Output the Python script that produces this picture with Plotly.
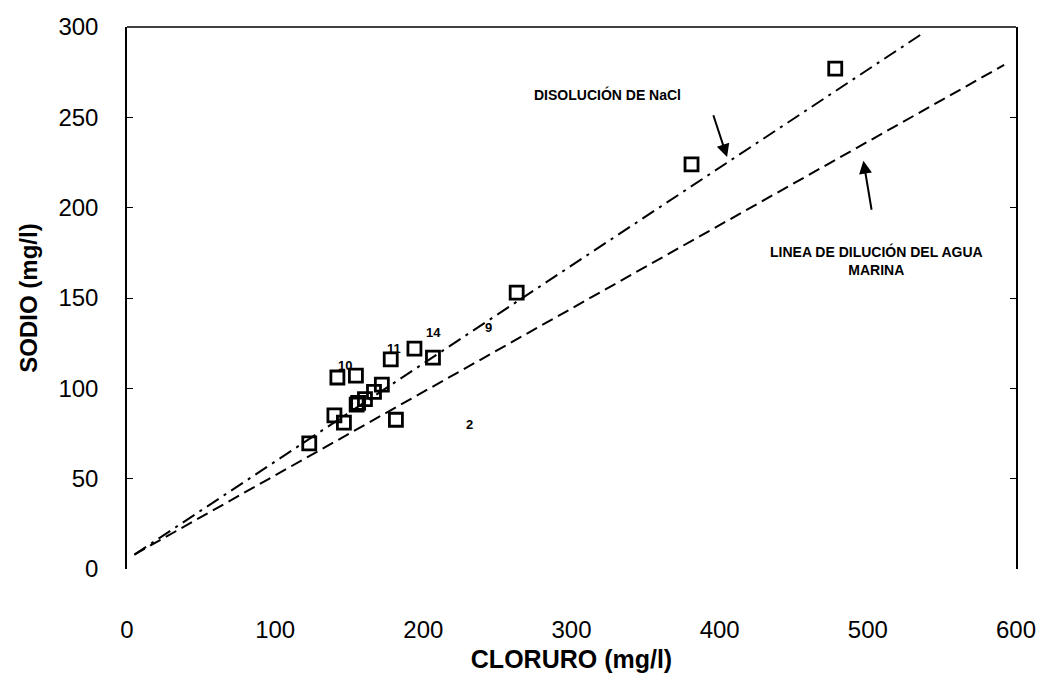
import plotly.graph_objects as go

# Data
cloruro = [123, 140, 146.4, 142, 154.5, 178, 194, 206.5, 172, 166.7, 160.6, 156, 155, 181.5, 263, 381, 478]
sodio = [69.5, 85, 81, 106, 107, 116, 122, 117, 102, 98, 94, 92, 91, 82.6, 153, 224, 277]

nacl_x = [5, 538]
nacl_y = [8, 297]
mar_x = [5, 592]
mar_y = [8, 279]

label_text = ["10", "11", "14", "9", "2"]
label_x = [147, 180, 207, 244, 231]
label_y = [112.5, 122, 131, 133.7, 80]

x_ticks = [0, 100, 200, 300, 400, 500, 600]
y_ticks = [0, 50, 100, 150, 200, 250, 300]

FONT = "Liberation Sans, Arial, sans-serif"

fig = go.Figure()
fig.add_trace(go.Scatter(x=nacl_x, y=nacl_y, mode="lines",
                         line=dict(color="black", width=2, dash="14px,6px,3px,6px"),
                         showlegend=False, hoverinfo="skip"))
fig.add_trace(go.Scatter(x=mar_x, y=mar_y, mode="lines",
                         line=dict(color="black", width=2, dash="12px,6px"),
                         showlegend=False, hoverinfo="skip"))
fig.add_trace(go.Scatter(x=cloruro, y=sodio, mode="markers",
                         marker=dict(symbol="square-open", size=13, color="black",
                                     line=dict(color="black", width=2.8)),
                         showlegend=False))

annotations = []
for t, x, y in zip(label_text, label_x, label_y):
    annotations.append(dict(x=x, y=y, text="<b>" + t + "</b>", showarrow=False,
                            font=dict(family=FONT, size=13, color="black")))

annotations += [
    dict(x=324.6, y=262.5, text="<b>DISOLUCIÓN DE NaCl</b>", showarrow=False,
         font=dict(family=FONT, size=14, color="black")),
    dict(x=405, y=228, ax=395.4, ay=252, axref="x", ayref="y", xref="x", yref="y",
         text="", showarrow=True, arrowhead=2, arrowsize=1.3, arrowwidth=2, arrowcolor="black"),
    dict(x=506, y=171, text="<b>LINEA DE DILUCIÓN DEL AGUA<br>MARINA</b>", showarrow=False,
         align="center", font=dict(family=FONT, size=14, color="black")),
    dict(x=497, y=226, ax=502.7, ay=198, axref="x", ayref="y", xref="x", yref="y",
         text="", showarrow=True, arrowhead=2, arrowsize=1.3, arrowwidth=2, arrowcolor="black"),
]

fig.update_layout(
    width=1048, height=681,
    margin=dict(l=127, r=32, t=27, b=101),
    paper_bgcolor="white", plot_bgcolor="white",
    font=dict(family=FONT, color="black"),
    annotations=annotations,
    shapes=[dict(type="line", xref="paper", yref="paper", x0=0, x1=1, y0=1, y1=1,
                 line=dict(color="black", width=1.5))],
    xaxis=dict(range=[0, 600], tickvals=x_ticks, showgrid=False, zeroline=False,
               showline=False, ticks="", ticklabelstandoff=44,
               tickfont=dict(family=FONT, size=24, color="black"),
               title=dict(text="<b>CLORURO (mg/l)</b>", standoff=8,
                          font=dict(family=FONT, size=25, color="black"))),
    yaxis=dict(range=[0, 300], tickvals=y_ticks, showgrid=False, zeroline=False,
               showline=True, linecolor="black", linewidth=1.5, mirror="ticks",
               ticks="inside", ticklen=6, tickcolor="black",
               ticklabelstandoff=22,
               tickfont=dict(family=FONT, size=24, color="black"),
               title=dict(text="<b>SODIO (mg/l)</b>", standoff=14,
                          font=dict(family=FONT, size=24, color="black"))),
)

fig.write_html("out.html")
